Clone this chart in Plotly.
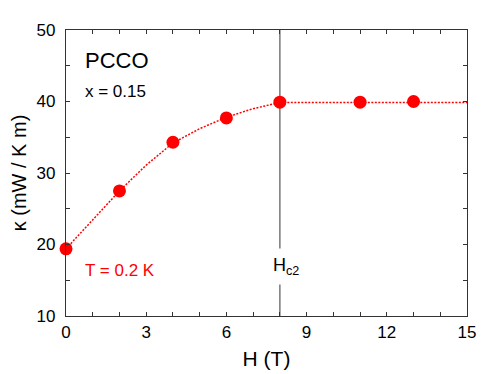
import plotly.graph_objects as go

# Data
H_data = [0, 2, 4, 6, 8, 11, 13]
kappa_data = [19.4, 27.5, 34.3, 37.7, 39.9, 39.9, 40.0]

# Dotted guide curve
H_fit = [0, 1, 2, 3, 4, 5, 6, 7, 8, 15]
kappa_fit = [19.4, 23.5, 27.5, 31.1, 34.2, 36.2, 37.8, 39.0, 39.85, 39.85]

x_ticks = [0, 3, 6, 9, 12, 15]
y_ticks = [10, 20, 30, 40, 50]
Hc2 = 8

FONT = "Liberation Sans, Arial, sans-serif"
RED = "#ff0000"

fig = go.Figure()
fig.add_trace(go.Scatter(x=H_fit, y=kappa_fit, mode="lines",
                         line=dict(color=RED, width=1.5, dash="2px,1.5px", shape="linear"),
                         hoverinfo="skip"))
fig.add_trace(go.Scatter(x=H_data, y=kappa_data, mode="markers",
                         marker=dict(color=RED, size=13, line=dict(width=0)),
                         cliponaxis=False))

fig.add_shape(type="line", x0=Hc2, x1=Hc2, y0=0, y1=1, xref="x", yref="paper",
              line=dict(color="#777777", width=1.5), layer="below")

fig.add_annotation(x=Hc2, y=16.9, xref="x", yref="y", text="H<sub>c2</sub>",
                   showarrow=False, xshift=6, bgcolor="white", borderpad=6,
                   font=dict(family=FONT, size=18, color="black"))
fig.add_annotation(x=0.62, y=45.7, xref="x", yref="y", text="PCCO", showarrow=False,
                   xanchor="left", font=dict(family=FONT, size=22, color="black"))
fig.add_annotation(x=0.62, y=41.4, xref="x", yref="y", text="x = 0.15", showarrow=False,
                   xanchor="left", font=dict(family=FONT, size=17, color="black"))
fig.add_annotation(x=0.62, y=16.4, xref="x", yref="y", text="T = 0.2 K", showarrow=False,
                   xanchor="left", font=dict(family=FONT, size=17, color=RED))

axis_common = dict(showgrid=False, zeroline=False, showline=True, linecolor="#333333",
                   linewidth=1.2, mirror="ticks", ticks="inside", ticklen=4,
                   tickcolor="#333333", tickwidth=1, automargin=False,
                   tickfont=dict(family=FONT, size=17, color="black"))

fig.update_xaxes(range=[0, 15], tickvals=x_ticks, ticktext=[str(v) for v in x_ticks],
                 minor=dict(dtick=1, ticks="inside", ticklen=4, tickcolor="#333333"),
                 title=dict(text="H (T)", font=dict(family=FONT, size=21, color="black"), standoff=10),
                 **axis_common)
fig.update_yaxes(range=[10, 50], tickvals=y_ticks, ticktext=[str(v) for v in y_ticks],
                 minor=dict(dtick=5, ticks="inside", ticklen=4, tickcolor="#333333"),
                 title=dict(text="κ (mW / K m)", font=dict(family=FONT, size=20, color="black"), standoff=8),
                 ticklabelstandoff=6,
                 **axis_common)

# page body has an 8px margin, so the figure is offset by (8, 8)
fig.update_layout(width=477, height=366, margin=dict(l=58, r=18, t=22, b=58, autoexpand=False),
                  plot_bgcolor="white", paper_bgcolor="white", showlegend=False,
                  font=dict(family=FONT))

fig.write_html("out.html")
